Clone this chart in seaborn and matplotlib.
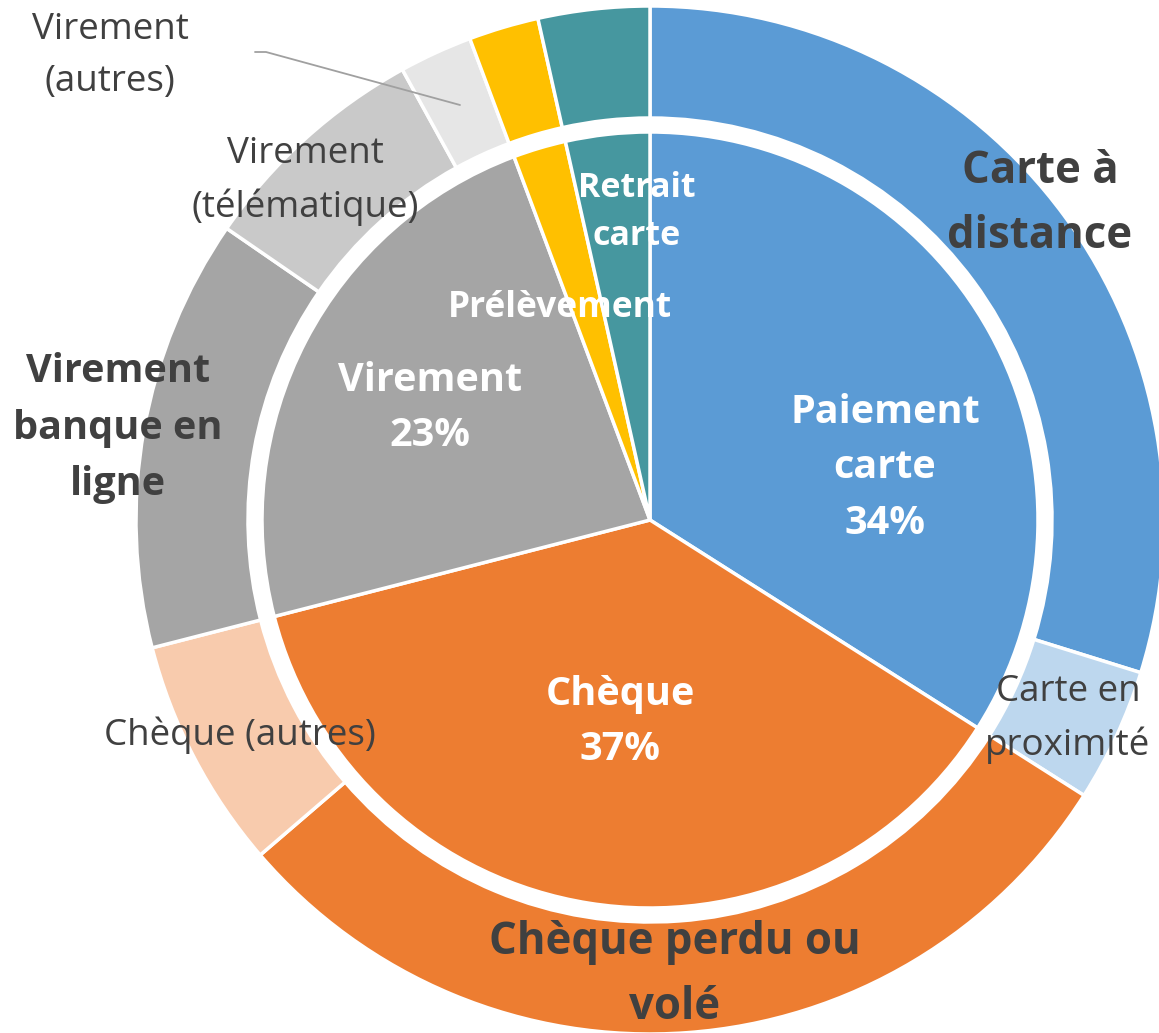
import matplotlib
matplotlib.use("Agg")
import matplotlib.pyplot as plt
import seaborn as sns

sns.set_theme(style="white")
plt.rcParams['font.family'] = ['Open Sans', 'DejaVu Sans']

# Data
inner_labels = ["Paiement carte", "Chèque", "Virement", "Prélèvement", "Retrait carte"]
inner_values = [34.0, 37.0, 23.3, 2.2, 3.5]
inner_colors = ["#5B9BD5", "#ED7D31", "#A5A5A5", "#FFC000", "#46979F"]

outer_labels = ["Carte à distance", "Carte en proximité", "Chèque perdu ou volé",
                "Chèque (autres)", "Virement banque en ligne", "Virement (télématique)",
                "Virement (autres)", "Prélèvement", "Retrait carte"]
outer_values = [29.8, 4.2, 29.7, 7.3, 13.6, 7.4, 2.3, 2.2, 3.5]
outer_colors = ["#5B9BD5", "#BDD7EE", "#ED7D31", "#F8CBAD", "#A5A5A5", "#C9C9C9",
                "#E6E6E6", "#FFC000", "#46979F"]

W, H = 1159, 1033
CX, CY = 650, 520
fig = plt.figure(figsize=(W / 100, H / 100), dpi=100)
ax = fig.add_axes([0, 0, 1, 1])
ax.set_xlim(-CX, W - CX)
ax.set_ylim(-(H - CY), CY)
ax.set_aspect("equal")
ax.axis("off")

R_OUT = 514
R_OUT_IN = 402
R_IN = 388

ax.pie(outer_values, colors=outer_colors, radius=R_OUT, startangle=90, counterclock=False,
       wedgeprops=dict(width=R_OUT - R_OUT_IN, edgecolor="white", linewidth=2.5))
ax.pie(inner_values, colors=inner_colors, radius=R_IN, startangle=90, counterclock=False,
       wedgeprops=dict(edgecolor="white", linewidth=2.5))
ax.set_xlim(-CX, W - CX)
ax.set_ylim(-(H - CY), CY)


def P(px, py):
    return px - CX, CY - py


DARK = "#404040"


def lab(px, py, s, size, color=DARK, bold=False, ls=1.2):
    x, y = P(px, py)
    ax.text(x, y, s, ha="center", va="center", fontsize=size, color=color,
            fontweight="bold" if bold else "normal", linespacing=ls)


# inner labels
lab(885, 468, "Paiement\ncarte\n34%", 28.5, "white", True, 1.56)
lab(620, 722, "Chèque\n37%", 28.5, "white", True, 1.56)
lab(430, 408, "Virement\n23%", 28.5, "white", True, 1.56)
lab(560, 308, "Prélèvement", 25.5, "white", True)
lab(637, 212, "Retrait\ncarte", 24.5, "white", True, 1.55)

# outer labels
lab(1040, 204, "Carte à\ndistance", 31.5, DARK, True, 1.58)
lab(1068, 719, "Carte en\nproximité", 26.5, DARK, False, 1.6)
lab(675, 975, "Chèque perdu ou\nvolé", 31.5, DARK, True, 1.6)
lab(240, 735, "Chèque (autres)", 26.5, DARK, False)
lab(118, 428, "Virement\nbanque en\nligne", 28.5, DARK, True, 1.6)
lab(305, 181, "Virement\n(télématique)", 26.5, DARK, False, 1.6)
lab(110, 56, "Virement\n(autres)", 26.5, DARK, False, 1.6)

# leader line
lx = [P(255, 52)[0], P(266, 52)[0], P(460, 105)[0]]
ly = [P(255, 52)[1], P(266, 52)[1], P(460, 105)[1]]
ax.plot(lx, ly, color="#A0A0A0", linewidth=1.3)

fig.savefig("out.png", dpi=100)
